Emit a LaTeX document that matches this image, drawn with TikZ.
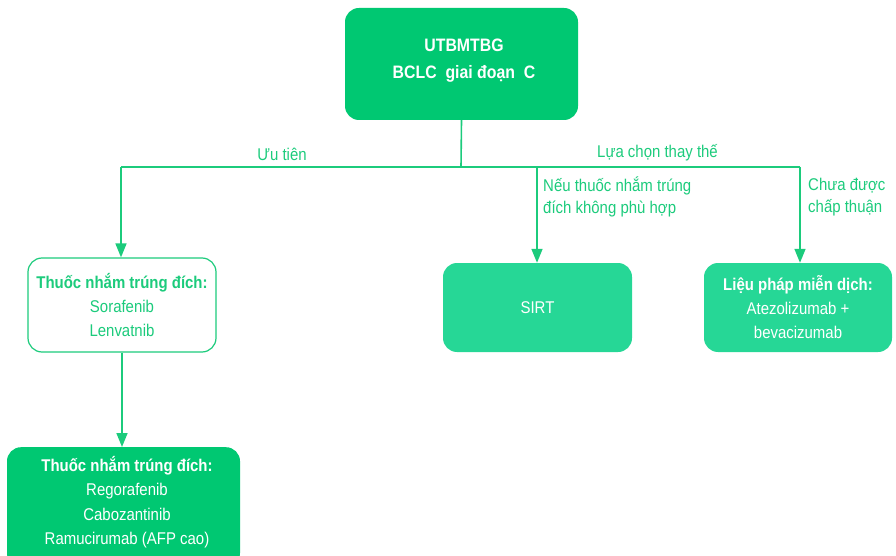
\documentclass[tikz,border=0pt]{standalone}
\usepackage{fontspec}
\setmainfont[FakeStretch=0.88]{Liberation Sans}
\usetikzlibrary{arrows.meta}
\definecolor{gdark}{HTML}{00C872}
\definecolor{glight}{HTML}{26D796}
\definecolor{gline}{HTML}{1CCB7C}
\begin{document}
\begin{tikzpicture}[x=1pt,y=-1pt,
  box/.style={rounded corners=14pt, draw=none, text=white, align=center, inner sep=0pt},
  conn/.style={draw=gline, line width=1.6pt},
  arr/.style={conn, -{Triangle[length=14pt,width=11pt]}},
  lbl/.style={text=gline, font=\fontsize{17}{22}\selectfont, inner sep=0pt}]
\useasboundingbox (0,0) rectangle (896,556);
% top box
\node[box, fill=gdark, minimum width=233pt, minimum height=112pt] (top) at (461.5,64) {};
\node[text=white, align=center, inner sep=0pt, font=\bfseries\fontsize{18}{27}\selectfont] (toptxt) at (464,60.5) {UTBMTBG\\BCLC\ \ giai đoạn\ \ C};
% left box (outlined)
\node[box, draw=gline, line width=1.2pt, fill=white, text=gline, minimum width=188pt, minimum height=94pt, font=\fontsize{17}{24}\selectfont] (tki) at (122,305) {\textbf{Thuốc nhắm trúng đích:}\\Sorafenib\\Lenvatnib};
% SIRT
\node[box, fill=glight, minimum width=189pt, minimum height=89pt, font=\fontsize{17}{24}\selectfont] (sirt) at (537.5,307.5) {\raisebox{-2pt}{SIRT}};
% immunotherapy
\node[box, fill=glight, minimum width=188pt, minimum height=89pt, font=\fontsize{17}{24}\selectfont] (immu) at (798,307.5) {\textbf{Liệu pháp miễn dịch:}\\Atezolizumab +\\bevacizumab};
% second line
\node[box, fill=gdark, minimum width=233pt, minimum height=120pt, anchor=north] (tki2) at (123.5,447) {};
\node[text=white, align=center, inner sep=0pt, font=\fontsize{17}{24.5}\selectfont] (tki2txt) at (127,502) {\textbf{Thuốc nhắm trúng đích:}\\Regorafenib\\Cabozantinib\\Ramucirumab (AFP cao)};
% junction
\coordinate (j) at (461,167);
\coordinate (jl) at (121,167);
\coordinate (jm) at (537,167);
\coordinate (jr) at (800,167);
\draw[conn] (top.south) -- (j);
\draw[conn] (jl) -- (jr);
\draw[arr] (jl) -- (jl |- tki.north);
\draw[arr] (jm) -- (jm |- sirt.north);
\draw[arr] (jr) -- (jr |- immu.north);
\draw[arr] (tki.south) -- (tki.south |- tki2.north);
% labels
\node[lbl] (l1) at (282,154) {Ưu tiên};
\node[lbl] (l2) at (657.5,153) {Lựa chọn thay thế};
\node[lbl, align=left, anchor=west] (l3) at (543,197) {Nếu thuốc nhắm trúng\\đích không phù hợp};
\node[lbl, align=left, anchor=west] (l4) at (808,197) {Chưa được\\chấp thuận};
\end{tikzpicture}
\end{document}
